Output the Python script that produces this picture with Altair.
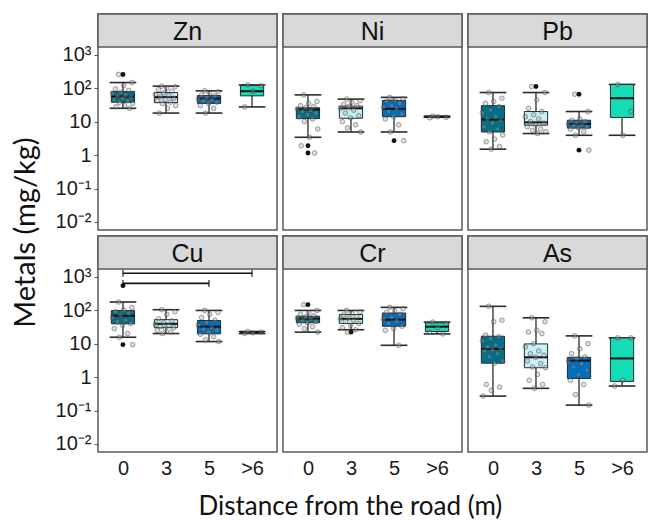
import altair as alt
import pandas as pd

metals = ["Zn", "Ni", "Pb", "Cu", "Cr", "As"]
groups = ["0", "3", "5", ">6"]
group_colors = ["#00708c", "#c8f0f7", "#0070c4", "#14dcb4"]

# box statistics (mg/kg), one value per distance group
whisker_low = {
    "Zn": [25, 18, 18, 27.5],
    "Ni": [3.4, 4.9, 4.9, 13.5],
    "Pb": [1.5, 4.4, 3.9, 3.9],
    "Cu": [15.5, 20, 11.5, 20],
    "Cr": [22, 26, 8.9, 19.5],
    "As": [0.27, 0.46, 0.145, 0.54],
}
q1 = {
    "Zn": [38, 37, 35, 59],
    "Ni": [12.3, 12.6, 14, 13.7],
    "Pb": [4.9, 7.8, 6.4, 13.3],
    "Cu": [39, 30, 19.6, 21],
    "Cr": [42, 40, 33, 23],
    "As": [2.6, 1.9, 0.91, 0.74],
}
median = {
    "Zn": [56, 54, 49, 81],
    "Ni": [23, 25, 24, 14],
    "Pb": [11.5, 9.5, 8.5, 50],
    "Cu": [68, 39, 32, 22],
    "Cr": [55, 55, 52, 32],
    "As": [6.9, 3.9, 3.1, 3.6],
}
q3 = {
    "Zn": [79, 74, 60, 120],
    "Ni": [26, 29, 43, 14.3],
    "Pb": [30, 20, 11, 129],
    "Cu": [97, 52, 49, 23],
    "Cr": [66, 74, 82, 42],
    "As": [16.6, 9.8, 3.9, 14.8],
}
whisker_high = {
    "Zn": [147, 115, 83, 125],
    "Ni": [63, 47, 53, 14.5],
    "Pb": [74, 74, 20, 129],
    "Cu": [175, 103, 98, 23],
    "Cr": [98, 98, 121, 44],
    "As": [130, 59, 17, 14.8],
}

# individual samples (jittered grey points)
samples = {
    "Zn": [
        [257, 147, 120, 95, 85, 75, 70, 62, 58, 55, 50, 45, 42, 38, 35, 30, 28, 25],
        [115, 110, 100, 90, 80, 72, 65, 60, 55, 50, 46, 42, 38, 35, 30, 25, 18],
        [83, 78, 70, 62, 58, 52, 48, 45, 42, 38, 35, 30, 25, 18],
        [125, 118, 81, 27.5],
    ],
    "Ni": [
        [63, 40, 35, 30, 28, 26, 24, 22, 20, 18, 16, 14, 12, 10, 6, 3.4, 1.9, 1.15],
        [47, 42, 38, 33, 30, 28, 25, 22, 18, 15, 13, 10, 8, 6.5, 4.9],
        [53, 48, 45, 40, 35, 30, 27, 24, 20, 17, 14, 12, 8, 4.9, 2.7],
        [14.5, 13.5, 14, 13],
    ],
    "Pb": [
        [74, 50, 40, 35, 28, 22, 18, 14, 12, 11, 9, 7, 6, 5, 4, 3, 2.5, 1.8, 1.5],
        [112, 74, 45, 25, 20, 16, 14, 12, 10, 9, 8, 7, 6, 5.5, 5, 4.4],
        [66, 20, 12, 11, 10, 9, 8.5, 8, 7.5, 7, 6.5, 6, 5, 3.9, 1.4],
        [129, 20, 3.9],
    ],
    "Cu": [
        [175, 120, 100, 90, 80, 70, 60, 50, 45, 40, 35, 28, 20, 15.5, 9.3],
        [103, 90, 75, 55, 48, 42, 38, 35, 32, 30, 28, 25, 22, 20],
        [98, 85, 75, 60, 50, 42, 35, 30, 27, 25, 22, 19, 16, 13, 11.5],
        [23, 22, 21, 20],
    ],
    "Cr": [
        [146, 98, 85, 75, 68, 62, 58, 55, 50, 46, 42, 38, 32, 28, 22],
        [98, 88, 80, 72, 65, 58, 55, 50, 45, 40, 35, 30, 26, 22],
        [121, 110, 95, 85, 75, 62, 55, 48, 40, 33, 28, 25, 8.9],
        [44, 40, 30, 22, 19.5],
    ],
    "As": [
        [130, 50, 45, 18, 16, 14, 12, 9, 8, 7, 6.5, 6, 5, 4, 3, 2.6, 0.6, 0.5, 0.4, 0.27],
        [59, 45, 25, 22, 20, 10, 8, 6, 5, 4.5, 3.9, 3, 2.5, 2, 1.9, 1.2, 0.8, 0.6, 0.46],
        [17, 10, 7, 5, 4, 3.5, 3, 2.5, 2, 1.6, 1.2, 0.8, 0.6, 0.3, 0.145],
        [14.8, 14.8, 0.8, 0.54],
    ],
}

# boxplot outliers (black points)
outliers = {
    "Zn": [[257], [], [], []],
    "Ni": [[1.9, 1.15], [], [2.7], []],
    "Pb": [[], [112], [66, 1.4], []],
    "Cu": [[540, 9.3], [], [], []],
    "Cr": [[146], [22], [], []],
    "As": [[], [], [], []],
}

# significance brackets (Cu panel)
bracket_metal = "Cu"
bracket_from = [0, 0]
bracket_to = [3, 2]
bracket_y = [1270, 630]

W = 179
H = 183   # plotting area
SH = 33   # strip height
FONT = "Liberation Sans"
TITLE_FONT = "Lato"

yscale = alt.Scale(type="log", domain=[10 ** -2.24, 10 ** 3.23], nice=False, range=[H + SH, SH])
xscale = alt.Scale(domain=[-0.58, 3.58], nice=False, zero=False)

ylabel_expr = ("datum.value > 500 ? '10³' : datum.value > 50 ? '10²' : datum.value > 5 ? '10' : "
               "datum.value > 0.5 ? '1' : datum.value > 0.05 ? '10⁻¹' : '10⁻²'")
xlabel_expr = "datum.value < 0.5 ? '0' : datum.value < 1.5 ? '3' : datum.value < 2.5 ? '5' : '>6'"


def make_panel(m, col, row):
    yaxis = alt.Axis(values=[0.01, 0.1, 1, 10, 100, 1000], labelExpr=ylabel_expr, title=None,
                     tickSize=4, labelPadding=3, grid=False, domain=False) if col == 0 else None
    xaxis = alt.Axis(values=[0, 1, 2, 3], labelExpr=xlabel_expr, title=None, ticks=False,
                     domain=False, grid=False, labelPadding=6) if row == 1 else None

    def Y(f):
        return alt.Y(f, type="quantitative", scale=yscale, axis=yaxis)

    def X(f):
        return alt.X(f, type="quantitative", scale=xscale, axis=xaxis)

    bx = pd.DataFrame({
        "group": groups,
        "xi": list(range(4)),
        "lo": whisker_low[m],
        "q1": q1[m],
        "med": median[m],
        "q3": q3[m],
        "hi": whisker_high[m],
    })
    base = alt.Chart(bx).transform_calculate(
        bl="datum.xi - 0.27", br="datum.xi + 0.27", cl="datum.xi - 0.31", cr="datum.xi + 0.31"
    )
    whisk = base.mark_rule(color="#2b2b2b", strokeWidth=1.3).encode(x=X("xi"), y=Y("lo"), y2="hi")
    cap_lo = base.mark_rule(color="#2b2b2b", strokeWidth=1.6).encode(x=X("cl"), x2="cr", y=Y("lo"))
    cap_hi = base.mark_rule(color="#2b2b2b", strokeWidth=1.6).encode(x=X("cl"), x2="cr", y=Y("hi"))
    box = base.mark_rect(stroke="#2b2b2b", strokeWidth=1).encode(
        x=X("bl"), x2="br", y=Y("q1"), y2="q3",
        fill=alt.Fill("group:N", scale=alt.Scale(domain=groups, range=group_colors), legend=None),
    )
    med = base.mark_rule(color="#111111", strokeWidth=2).encode(x=X("bl"), x2="br", y=Y("med"))

    rows = []
    for gi, vals in enumerate(samples[m]):
        for k, v in enumerate(vals):
            rows.append({"xi": gi, "k": k, "v": v})
    pts = pd.DataFrame(rows)
    pts_chart = alt.Chart(pts).transform_calculate(
        xj="datum.xi + ((datum.k * 0.618034 + 0.3) % 1 - 0.5) * 0.5"
    ).mark_point(shape="circle", size=22, filled=True, fill="#a0a0a0", fillOpacity=0.35,
                 stroke="#3a3a3a", strokeWidth=0.8, strokeOpacity=0.55).encode(x=X("xj"), y=Y("v"))

    layers = [whisk, cap_lo, cap_hi, box, med]
    orow = []
    for gi, vals in enumerate(outliers[m]):
        for v in vals:
            orow.append({"xi": gi, "v": v})
    if orow:
        out_chart = alt.Chart(pd.DataFrame(orow)).mark_point(
            shape="circle", size=24, filled=True, color="#111111", opacity=1
        ).encode(x=X("xi"), y=Y("v"))
        layers.append(out_chart)
    layers.append(pts_chart)

    if m == bracket_metal:
        br = pd.DataFrame({"x1": bracket_from, "x2": bracket_to, "y": bracket_y})
        line = alt.Chart(br).mark_rule(color="#111111", strokeWidth=1.6).encode(x=X("x1"), x2="x2", y=Y("y"))
        t1 = alt.Chart(br).mark_tick(orient="vertical", size=7, thickness=1.6, color="#111111").encode(
            x=X("x1"), y=Y("y"))
        t2 = alt.Chart(br).mark_tick(orient="vertical", size=7, thickness=1.6, color="#111111").encode(
            x=X("x2"), y=Y("y"))
        layers += [line, t1, t2]

    # strip (panel header) drawn inside the same view, above the plotting range
    sdf = pd.DataFrame({"label": [m]})
    srect = alt.Chart(sdf).mark_rect(fill="#d9d9d9", stroke="#5a5a5a", strokeWidth=1.5).encode(
        x=alt.value(0), x2=alt.value(W), y=alt.value(0), y2=alt.value(SH))
    stext = alt.Chart(sdf).mark_text(font=FONT, fontSize=25, color="#111111", baseline="middle").encode(
        text="label:N", x=alt.value(W / 2), y=alt.value(SH / 2 + 1))
    layers += [srect, stext]

    return alt.layer(*layers).properties(width=W, height=H + SH)


panels = [make_panel(m, i % 3, i // 3) for i, m in enumerate(metals)]

grid = alt.concat(
    *panels, columns=3, spacing=6, bounds="flush",
    title=alt.Title("Metals (mg/kg)", orient="left", anchor="middle", font=TITLE_FONT,
                    fontSize=29, fontWeight="normal", color="#111111", offset=13, dx=13),
)

chart = alt.vconcat(
    grid,
    title=alt.Title("Distance from the road (m)", orient="bottom", anchor="middle", font=TITLE_FONT,
                    fontSize=26, fontWeight="normal", color="#111111", offset=15, dx=20),
).properties(
    padding={"left": 12, "top": 12, "right": 0, "bottom": 0},
    background="white",
).configure_view(
    stroke="#5a5a5a", strokeWidth=1.5
).configure_axis(
    labelFont=FONT, labelFontSize=20, labelColor="#1a1a1a", tickColor="#555555", tickWidth=1
)

chart.save("out.html", embed_options={"renderer": "svg", "actions": False})
